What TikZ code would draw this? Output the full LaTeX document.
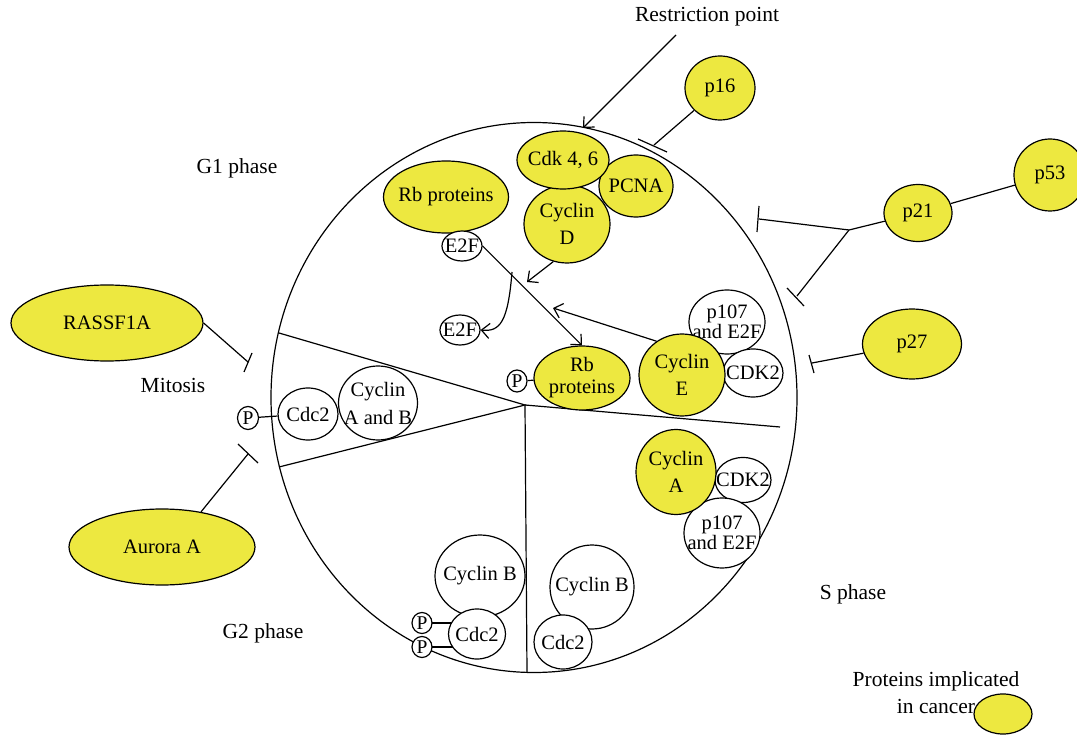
\documentclass[tikz,border=0pt]{standalone}
\usepackage{fontspec}
\setmainfont{Liberation Serif}
\usetikzlibrary{shapes.geometric,arrows.meta,calc,backgrounds}
\definecolor{yel}{RGB}{237,232,64}
\begin{document}
\begin{tikzpicture}[x=1pt,y=-1pt,
  every node/.style={font=\fontsize{21.5}{22}\selectfont, text=black, inner sep=0pt},
  base/.style={ellipse, draw, line width=1.2pt},
  yp/.style={base, fill=yel},
  wp/.style={base, fill=white},
  lb/.style={align=center, inner sep=0pt, font=\fontsize{20.5}{21}\selectfont},
  t/.style={label={[lb]center:#1}},
  tp/.style={label={[lb, font=\fontsize{19.5}{20}\selectfont]center:#1}},
  ln/.style={line width=1.2pt},
  arr/.style={ln, -{Straight Barb[length=8pt,width=15pt]}},
  lbl/.style={align=center}
]
\useasboundingbox (0,0) rectangle (1077,735);

% ---------- labels ----------
\node[lbl] (rp) at (707,17) {Restriction point};
\node[lbl] (g1) at (237,168) {G1 phase};
\node[lbl] (mit) at (173,385) {Mitosis};
\node[lbl] (sph) at (853,594) {S phase};
\node[lbl] (g2) at (263,633) {G2 phase};
\node[lbl, font=\fontsize{21.5}{27}\selectfont] (leg) at (936,693) {Proteins implicated\\in cancer};
\node[yp, minimum width=58, minimum height=40] (legc) at (1003,714) {};

% ---------- outside proteins ----------
\node[yp, minimum width=70, minimum height=64, t={p16}] (p16) at (720,88) {};
\node[yp, minimum width=72, minimum height=72, t={p53}] (p53) at (1050,175) {};
\node[yp, minimum width=68, minimum height=57, t={p21}] (p21) at (918,213) {};
\node[yp, minimum width=99, minimum height=70, t={p27}] (p27) at (912,344) {};
\node[yp, minimum width=192, minimum height=76, t={RASSF1A}] (ras) at (107,323) {};
\node[yp, minimum width=186, minimum height=76, t={Aurora A}] (aur) at (162,547) {};

% ---------- G1 sector ----------
\node[yp, minimum width=125, minimum height=72, t={Rb proteins}] (rb1) at (446,197) {};
\node[wp, minimum width=40, minimum height=30, t={E2F}] (e2fa) at (462,246) {};
\node[yp, minimum width=86, minimum height=78, t={Cyclin\\[6pt]D}] (cycd) at (567,224) {};
\node[yp, minimum width=74, minimum height=62, t={PCNA}] (pcna) at (636,186) {};
\node[yp, minimum width=92, minimum height=58, t={Cdk 4, 6}] (cdk46) at (563,160) {};
\node[wp, minimum width=40, minimum height=30, t={E2F}] (e2fb) at (460,330) {};
\node[wp, minimum width=76, minimum height=64, t={p107\\[-1pt]and E2F}] (p107a) at (727,322) {};
\node[wp, minimum width=60, minimum height=48, t={CDK2}] (cdk2a) at (753,373) {};
\node[yp, minimum width=86, minimum height=82, t={Cyclin\\[6pt]E}] (cyce) at (682,375) {};
\node[yp, minimum width=96, minimum height=64, t={Rb\\[1pt]proteins}] (rbp) at (582,378) {};
\node[wp, minimum width=20, minimum height=22, tp={P}] (prb) at (517,381) {};

% ---------- Mitosis sector ----------
\node[wp, minimum width=60, minimum height=52, t={Cdc2}] (cdcm) at (308,414) {};
\node[wp, minimum width=79, minimum height=74, t={Cyclin\\[7pt]A and B}] (cycab) at (378,403) {};
\node[wp, minimum width=21, minimum height=23, tp={P}] (pm) at (248,418) {};

% ---------- S sector ----------
\node[wp, minimum width=56, minimum height=45, t={CDK2}] (cdk2b) at (743,480) {};
\node[wp, minimum width=76, minimum height=70, t={p107\\[-1pt]and E2F}] (p107b) at (722,533) {};
\node[yp, minimum width=80, minimum height=85, t={Cyclin\\[6pt]A}] (cyca) at (676,472) {};
\node[wp, minimum width=84, minimum height=84, t={Cyclin B}] (cycbs) at (592,587) {};
\node[wp, minimum width=58, minimum height=54, t={Cdc2}] (cdcs) at (563,642) {};

% ---------- G2 sector ----------
\node[wp, minimum width=90, minimum height=82, t={Cyclin B}] (cycbg) at (480,576) {};
\node[wp, minimum width=57, minimum height=50, t={Cdc2}] (cdcg) at (477,634) {};
\node[wp, minimum width=20, minimum height=21, tp={P}] (pg1) at (422,623) {};
\node[wp, minimum width=20, minimum height=21, tp={P}] (pg2) at (422,647) {};

% ---------- coordinates ----------
\coordinate (ctr) at (525,405);
\coordinate (dUL) at (279,333);
\coordinate (dLL) at (279,467);
\coordinate (dR) at (780,427);
\coordinate (dB) at (527,672);
\coordinate (rpa) at (676,35);
\coordinate (rpt) at (583,128);
\coordinate (p16e) at (654,145);
\coordinate (p16b1) at (638,139);
\coordinate (p16b2) at (667,152);
\coordinate (jn) at (849,230);
\coordinate (j1) at (759,219);
\coordinate (j1b1) at (759,206);
\coordinate (j1b2) at (757,232);
\coordinate (j2) at (797,296);
\coordinate (j2b1) at (787,288);
\coordinate (j2b2) at (804,306);
\coordinate (p27e) at (812,363);
\coordinate (p27b1) at (809,355);
\coordinate (p27b2) at (814,373);
\coordinate (rase) at (248,362);
\coordinate (rasb1) at (244,372);
\coordinate (rasb2) at (252,353);
\coordinate (aure) at (248,454);
\coordinate (aurb1) at (238,444);
\coordinate (aurb2) at (258,463);
\coordinate (cdt) at (527,282);
\coordinate (brs) at (512,272);
\coordinate (cet) at (553,308);

\begin{scope}[on background layer]
  \draw[ln] (534,397.5) ellipse [x radius=263, y radius=275];
  \draw[ln] (dUL) -- (ctr) -- (dLL);
  \draw[ln] (ctr) -- (dR);
  \draw[ln] (ctr) -- (dB);
  \draw[ln] (pg1.center) -- (pg1 -| cdcg);
  \draw[ln] (pg2.center) -- (pg2 -| cdcg);
\end{scope}

% ---------- connectors ----------
\draw[arr] (rpa) -- (rpt);
\draw[ln] (p16) -- (p16e);
\draw[ln] (p16b1) -- (p16b2);
\draw[ln] (p53) -- (p21);
\draw[ln] (p21) -- (jn);
\draw[ln] (jn) -- (j1);
\draw[ln] (j1b1) -- (j1b2);
\draw[ln] (jn) -- (j2);
\draw[ln] (j2b1) -- (j2b2);
\draw[ln] (p27) -- (p27e);
\draw[ln] (p27b1) -- (p27b2);
\draw[ln] (ras.east) -- (rase);
\draw[ln] (rasb1) -- (rasb2);
\draw[ln] (aur.42) -- (aure);
\draw[ln] (aurb1) -- (aurb2);
\draw[ln] (pm) -- (cdcm);
\draw[ln] (prb) -- (rbp);

\draw[arr] (cycd.250) -- (cdt);
\draw[arr] (e2fa.east) -- (rbp.north);
\draw[arr] (brs) .. controls (508,322) and (500,332) .. (e2fb.east);
\draw[arr] (cyce.127) -- (cet);
\end{tikzpicture}
\end{document}
